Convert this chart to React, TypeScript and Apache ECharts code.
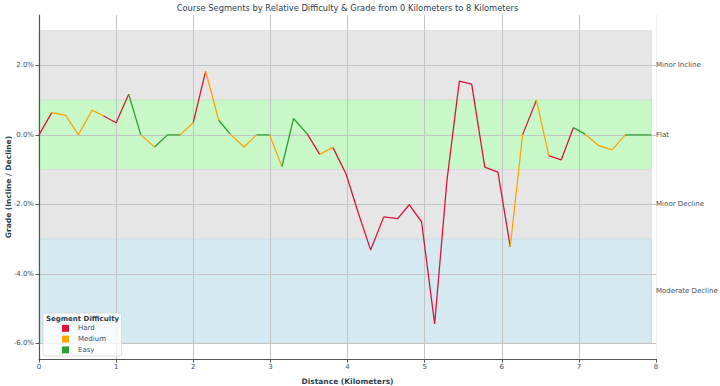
import React, { useEffect, useRef } from "react";
import * as echarts from "echarts";

const distanceKm = [
  0, 0.165, 0.346, 0.51, 0.687, 0.834, 1.0, 1.163, 1.32, 1.5, 1.665, 1.83, 2.0, 2.16, 2.33, 2.48,
  2.66, 2.82, 2.99, 3.15, 3.3, 3.48, 3.64, 3.81, 3.98, 4.14, 4.3, 4.47, 4.65, 4.8, 4.96, 5.13,
  5.29, 5.45, 5.61, 5.78, 5.95, 6.11, 6.27, 6.45, 6.61, 6.77, 6.93, 7.08, 7.26, 7.43, 7.6, 7.77, 7.94,
];
const gradePct = [
  0, 0.64, 0.56, 0.0, 0.71, 0.55, 0.35, 1.17, 0.0, -0.35, 0.0, 0.0, 0.35, 1.83, 0.42, 0.02,
  -0.35, 0.0, 0.0, -0.91, 0.47, 0.02, -0.56, -0.36, -1.12, -2.25, -3.31, -2.36, -2.41, -2.01, -2.5, -5.44,
  -1.3, 1.55, 1.46, -0.93, -1.07, -3.22, 0.0, 1.0, -0.6, -0.72, 0.21, 0.02, -0.31, -0.43, 0.0, 0.0, 0.0,
];
// difficulty of segment i (from point i to point i+1)
const segmentDifficulty = [
  "Hard", "Medium", "Medium", "Medium", "Medium", "Hard", "Hard", "Easy",
  "Medium", "Easy", "Easy", "Medium", "Hard", "Medium", "Easy", "Medium",
  "Medium", "Easy", "Medium", "Easy", "Easy", "Hard", "Medium", "Hard",
  "Hard", "Hard", "Hard", "Hard", "Hard", "Hard", "Hard", "Hard",
  "Hard", "Hard", "Hard", "Hard", "Hard", "Medium", "Hard", "Medium",
  "Hard", "Hard", "Easy", "Medium", "Medium", "Medium", "Easy", "Easy",
];

const difficulties = ["Hard", "Medium", "Easy"];
const difficultyColors = ["#DC143C", "#FFA500", "#2CA02C"];

const bandNames = ["Minor Incline", "Flat", "Minor Decline", "Moderate Decline"];
const bandCenters = [2, 0, -2, -4.5];
const bandTop = [3, 1, -1, -3];
const bandBottom = [1, -1, -3, -6];
const bandColors = ["#e6e6e6", "#c8f7c8", "#e6e6e6", "#d4eaf0"];
const bandBorders = ["#dcdcdc", "#b9eab9", "#dcdcdc", "#c3dde5"];

const yTicks = [-6, -4, -2, 0, 2];
const xMin = 0;
const xMax = 8;
const yMin = -6.45;
const yMax = 3.45;

const FONT = "DejaVu Sans";
const TEXT = "#2c3e50";
const TICK = "#3e4f63";

function buildSegments(diff: string) {
  const out: any[] = [];
  let prev = false;
  for (let i = 0; i < segmentDifficulty.length; i++) {
    if (segmentDifficulty[i] === diff) {
      if (!prev) out.push([distanceKm[i], gradePct[i]]);
      out.push([distanceKm[i + 1], gradePct[i + 1]]);
      prev = true;
    } else {
      if (prev) out.push([distanceKm[i], "-"]);
      prev = false;
    }
  }
  return out;
}

export default function App() {
  const ref = useRef<HTMLDivElement>(null);
  useEffect(() => {
    document.body.style.margin = "0";
    if (!ref.current) return;
    const chart = echarts.init(ref.current, undefined, { renderer: "svg" });
    const lastX = distanceKm[distanceKm.length - 1];
    const option: any = {
      animation: false,
      backgroundColor: "#ffffff",
      textStyle: { fontFamily: FONT },
      grid: { left: 39, right: 64, top: 15, bottom: 27, containLabel: false, outerBoundsMode: "none" },
      graphic: [
        {
          type: "text",
          x: 347.5,
          y: 8,
          z: 20,
          style: {
            text: "Course Segments by Relative Difficulty & Grade from 0 Kilometers to 8 Kilometers",
            fill: TEXT,
            fontSize: 8.3,
            fontFamily: FONT,
            align: "center",
            verticalAlign: "middle",
          },
        },
        {
          type: "rect",
          z: 20,
          shape: { x: 43, y: 313, width: 78.5, height: 43, r: 2 },
          style: { fill: "rgba(255,255,255,0.8)", stroke: "#d6d6d6", lineWidth: 0.8 },
        },
        {
          type: "text",
          z: 21,
          x: 46,
          y: 318.5,
          style: {
            text: "Segment Difficulty",
            fill: TEXT,
            fontSize: 7,
            fontWeight: "bold",
            fontFamily: FONT,
            align: "left",
            verticalAlign: "middle",
          },
        },
      ],
      legend: {
        z: 22,
        data: difficulties.map((d) => ({ name: d, icon: "rect" })),
        orient: "vertical",
        left: 62,
        top: 324.8,
        padding: 0,
        itemWidth: 7,
        itemHeight: 7,
        itemGap: 3.8,
        textStyle: { fontSize: 7, color: TICK, fontFamily: FONT, lineHeight: 7, padding: [0, 0, 0, 4] },
      },
      xAxis: {
        type: "value",
        min: xMin,
        max: xMax,
        interval: 1,
        z: 2,
        name: "Distance (Kilometers)",
        nameLocation: "middle",
        nameGap: 18,
        nameMoveOverlap: false,
        nameTextStyle: { fontSize: 7.5, fontWeight: "bold", color: TEXT, fontFamily: FONT },
        axisLine: { show: true, onZero: false, lineStyle: { color: "#555", width: 1.2 } },
        axisTick: { show: true, length: 3.5, lineStyle: { color: "#555" } },
        axisLabel: { fontSize: 7, color: TICK, margin: 4, fontFamily: FONT },
        splitLine: { show: true, lineStyle: { color: "#c4c4c4", width: 1 } },
      },
      yAxis: [
        {
          type: "value",
          min: yMin,
          max: yMax,
          z: 2,
          position: "left",
          name: "Grade (Incline / Decline)",
          nameLocation: "middle",
          nameGap: 27,
          nameMoveOverlap: false,
          nameTextStyle: { fontSize: 7.5, fontWeight: "bold", color: TEXT, fontFamily: FONT },
          axisLine: { show: true, onZero: false, lineStyle: { color: "#555", width: 1.2 } },
          axisTick: { show: true, length: 3.5, customValues: yTicks, lineStyle: { color: "#555" } },
          axisLabel: {
            customValues: yTicks,
            fontSize: 7,
            color: TICK,
            margin: 5,
            fontFamily: FONT,
            formatter: (v: number) => v.toFixed(1) + "%",
          },
          splitLine: { show: true, lineStyle: { color: "#c4c4c4", width: 1 } },
        },
        {
          type: "value",
          min: yMin,
          max: yMax,
          z: 2,
          position: "right",
          axisLine: { show: true, onZero: false, lineStyle: { color: "#f0f0f0", width: 1 } },
          axisTick: { show: false, customValues: bandCenters },
          axisLabel: {
            customValues: bandCenters,
            fontSize: 7,
            color: TICK,
            margin: 0,
            fontFamily: FONT,
            formatter: (v: number) => {
              const idx = bandCenters.findIndex((c) => Math.abs(c - v) < 1e-6);
              return idx >= 0 ? bandNames[idx] : "";
            },
          },
          splitLine: { show: false },
        },
      ],
      series: [
        {
          name: "bands",
          type: "line",
          z: 0,
          data: [],
          silent: true,
          markArea: {
            silent: true,
            z: 1,
            data: bandNames.map((_, i) => [
              {
                coord: [xMin, bandTop[i]],
                itemStyle: { color: bandColors[i], borderColor: bandBorders[i], borderWidth: 0.8 },
              },
              { coord: [lastX, bandBottom[i]] },
            ]),
          },
        },
        ...difficulties.map((d, i) => ({
          name: d,
          type: "line",
          z: 3,
          showSymbol: false,
          symbol: "none",
          connectNulls: false,
          data: buildSegments(d),
          itemStyle: { color: difficultyColors[i] },
          lineStyle: { color: difficultyColors[i], width: 1.3 },
        })),
      ],
    };
    chart.setOption(option);
    return () => chart.dispose();
  }, []);
  return <div ref={ref} style={{ width: 720, height: 386 }} />;
}
